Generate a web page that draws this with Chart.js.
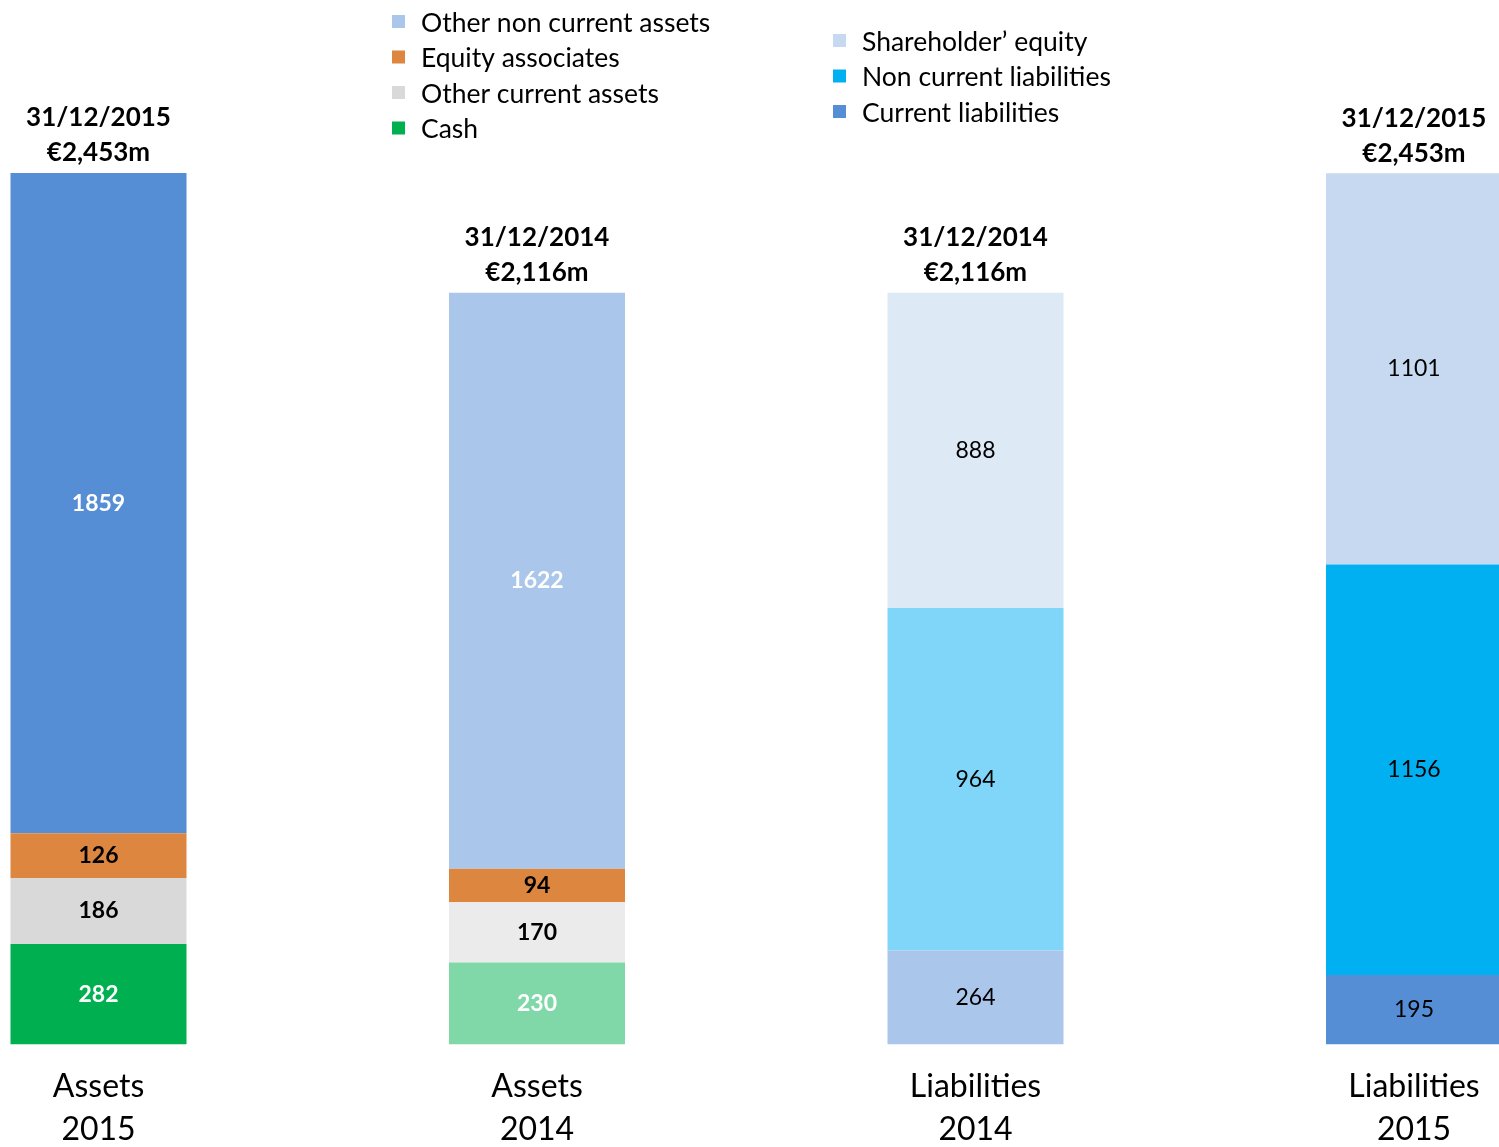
<!DOCTYPE html>
<html>
<head>
<meta charset="utf-8">
<title>Balance sheet 2015 vs 2014</title>
<script src="https://cdn.jsdelivr.net/npm/chart.js@4.4.1/dist/chart.umd.min.js"></script>
<style>
    html, body { margin: 0; padding: 0; background: #fff; }
</style>
</head>
<body>
<canvas id="balanceChart" width="1499" height="1147"></canvas>
<script>
// bars, left to right
const categories = [['Assets', '2015'], ['Assets', '2014'], ['Liabilities', '2014'], ['Liabilities', '2015']];
const dates = ['31/12/2015', '31/12/2014', '31/12/2014', '31/12/2015'];
const totals = ['€2,453m', '€2,116m', '€2,116m', '€2,453m'];

// assets (bottom to top)
const cash = [282, 230, null, null];
const otherCurrentAssets = [186, 170, null, null];
const equityAssociates = [126, 94, null, null];
const otherNonCurrentAssets = [1859, 1622, null, null];

// liabilities (bottom to top)
const currentLiabilities = [null, null, 264, 195];
const nonCurrentLiabilities = [null, null, 964, 1156];
const shareholderEquity = [null, null, 888, 1101];

const FONT = 'Lato, "Open Sans", sans-serif';

const series = [
    { label: 'Cash', data: cash, colors: ['#00B050', '#80D8A8', null, null], legend: '#00B050', text: ['#fff', '#fff'], bold: true },
    { label: 'Other current assets', data: otherCurrentAssets, colors: ['#D9D9D9', '#EBEBEB', null, null], legend: '#D9D9D9', text: ['#000', '#000'], bold: true },
    { label: 'Equity associates', data: equityAssociates, colors: ['#DD8640', '#DD8640', null, null], legend: '#DD8640', text: ['#000', '#000'], bold: true },
    { label: 'Other non current assets', data: otherNonCurrentAssets, colors: ['#558ED5', '#ABC6EB', null, null], legend: '#ABC6EB', text: ['#fff', '#fff'], bold: true },
    { label: 'Current liabilities', data: currentLiabilities, colors: [null, null, '#ABC6EB', '#558ED5'], legend: '#558ED5', text: [null, null, '#000', '#000'], bold: false },
    { label: 'Non current liabilities', data: nonCurrentLiabilities, colors: [null, null, '#7FD6F8', '#00B0F0'], legend: '#00B0F0', text: [null, null, '#000', '#000'], bold: false },
    { label: 'Shareholder\u2019 equity', data: shareholderEquity, colors: [null, null, '#DEE9F6', '#C6D9F1'], legend: '#C6D9F1', text: [null, null, '#000', '#000'], bold: false },
];

const assetLegend = ['Other non current assets', 'Equity associates', 'Other current assets', 'Cash'];
const liabilityLegend = ['Shareholder\u2019 equity', 'Non current liabilities', 'Current liabilities'];

// numbers inside each segment
const segmentLabels = {
    id: 'segmentLabels',
    afterDatasetsDraw(chart) {
        const ctx = chart.ctx;
        ctx.save();
        ctx.textAlign = 'center';
        ctx.textBaseline = 'middle';
        series.forEach((s, di) => {
            const meta = chart.getDatasetMeta(di);
            meta.data.forEach((bar, i) => {
                if (s.data[i] == null) return;
                ctx.font = (s.bold ? 'bold ' : '') + '23px ' + FONT;
                ctx.fillStyle = s.text[i];
                ctx.fillText(String(s.data[i]), bar.x, (bar.y + bar.base) / 2);
            });
        });
        ctx.restore();
    },
};

// date and total above each bar
const barHeaders = {
    id: 'barHeaders',
    afterDatasetsDraw(chart) {
        const ctx = chart.ctx;
        const xs = chart.scales.x;
        const ys = chart.scales.y;
        ctx.save();
        ctx.textAlign = 'center';
        ctx.textBaseline = 'middle';
        ctx.fillStyle = '#000';
        ctx.font = 'bold 26px ' + FONT;
        categories.forEach((c, i) => {
            let sum = 0;
            series.forEach((s) => { sum += s.data[i] || 0; });
            const top = ys.getPixelForValue(sum);
            const x = xs.getPixelForValue(i);
            ctx.fillText(dates[i], x, top - 55);
            ctx.fillText(totals[i], x, top - 20);
        });
        ctx.restore();
    },
};

// two separate legend blocks
const splitLegend = {
    id: 'splitLegend',
    afterDraw(chart) {
        const ctx = chart.ctx;
        const drawBlock = (names, x, y, step) => {
            names.forEach((name, k) => {
                const s = series.find((d) => d.label === name);
                const cy = y + k * step;
                ctx.fillStyle = s.legend;
                ctx.fillRect(x, cy - 8, 13, 13);
                ctx.fillStyle = '#000';
                ctx.fillText(name, x + 29, cy);
            });
        };
        ctx.save();
        ctx.font = '26.5px ' + FONT;
        ctx.textAlign = 'left';
        ctx.textBaseline = 'middle';
        drawBlock(assetLegend, 392, 23, 35.5);
        drawBlock(liabilityLegend, 833, 42, 35.5);
        ctx.restore();
    },
};

new Chart(document.getElementById('balanceChart'), {
    type: 'bar',
    data: {
        labels: categories,
        datasets: series.map((s) => ({
            label: s.label,
            data: s.data,
            backgroundColor: s.colors,
            borderWidth: 0,
            categoryPercentage: 0.4014,
            barPercentage: 1,
            clip: false,
        })),
    },
    options: {
        responsive: false,
        animation: false,
        layout: { padding: { top: 173, left: 98.5, right: 85, bottom: -17 } },
        plugins: {
            legend: { display: false },
            tooltip: { enabled: false },
        },
        scales: {
            x: {
                stacked: true,
                offset: false,
                grid: { display: false },
                border: { display: false },
                ticks: {
                    color: '#000',
                    padding: 13,
                    maxRotation: 0,
                    autoSkip: false,
                    font: { family: FONT, size: 32, lineHeight: 1.34 },
                },
            },
            y: {
                stacked: true,
                display: false,
                min: 0,
                max: 2453,
            },
        },
    },
    plugins: [segmentLabels, barHeaders, splitLegend],
});
</script>
</body>
</html>
